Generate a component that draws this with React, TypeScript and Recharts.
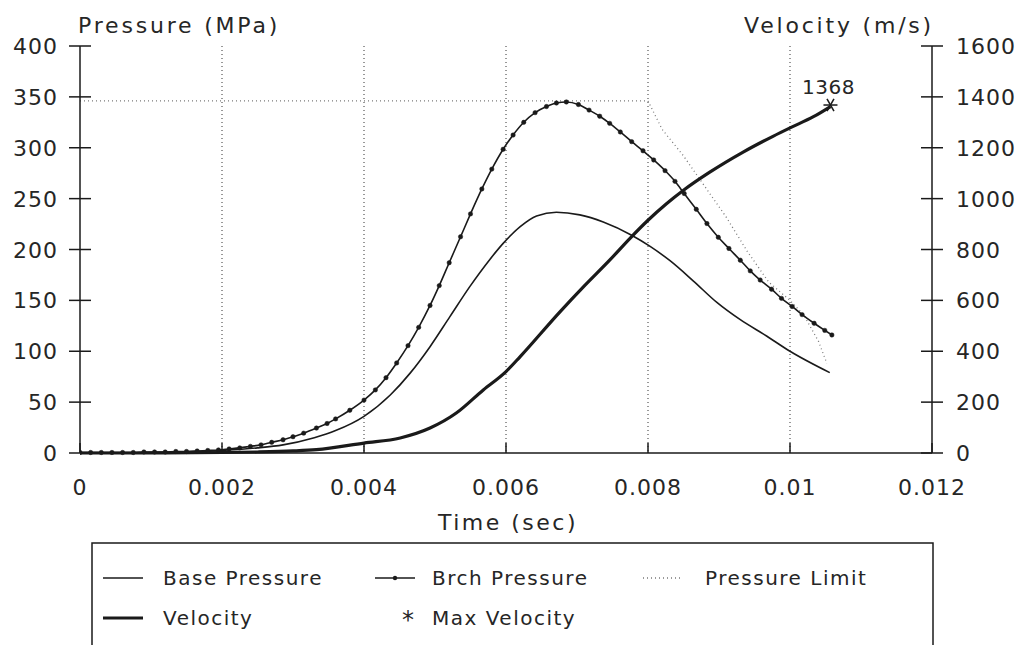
import React from 'react';
import { ComposedChart, Line, XAxis, YAxis, CartesianGrid, Scatter, Label } from 'recharts';

const timeTicks = [0, 0.002, 0.004, 0.006, 0.008, 0.01, 0.012];
const timeTickLabels = ['0', '0.002', '0.004', '0.006', '0.008', '0.01', '0.012'];
const pressureTicks = [0, 50, 100, 150, 200, 250, 300, 350, 400];
const velocityTicks = [0, 200, 400, 600, 800, 1000, 1200, 1400, 1600];

const brchTime = [0, 0.00015, 0.0003, 0.00045, 0.0006, 0.00075, 0.0009, 0.00105, 0.0012, 0.00135, 0.0015, 0.00165, 0.0018, 0.00195, 0.0021, 0.00225, 0.0024, 0.00255, 0.0027, 0.00286, 0.003, 0.00315, 0.00333, 0.00348, 0.0036, 0.0038, 0.004, 0.00416, 0.00431, 0.00446, 0.00462, 0.00477, 0.00493, 0.00506, 0.0052, 0.00536, 0.0055, 0.00566, 0.0058, 0.00596, 0.0061, 0.00625, 0.00641, 0.00657, 0.00671, 0.00685, 0.00702, 0.00717, 0.00732, 0.00746, 0.00761, 0.00777, 0.00793, 0.00808, 0.00824, 0.00838, 0.00851, 0.00868, 0.00883, 0.00899, 0.00914, 0.0093, 0.00944, 0.00958, 0.00974, 0.00988, 0.01003, 0.01017, 0.01034, 0.01049, 0.01059];
const brchPressure = [0.5, 0.5, 0.5, 0.5, 0.5, 0.5, 1, 1, 1, 1.5, 1.5, 2, 2.5, 3, 4, 5, 6.5, 8, 10.5, 13, 16, 19.5, 24.5, 29, 33.5, 42, 52, 62, 74, 88.5, 105.5, 123.5, 145, 164.5, 187, 212.5, 235, 259.5, 279, 298.5, 312.5, 325, 334.5, 340.5, 344, 345, 342.5, 337, 331, 324, 315.5, 306, 297, 288, 277.5, 267, 255, 239.5, 225.5, 212, 201, 189.5, 179, 170, 161, 152, 144, 136, 127.5, 120.5, 116];

const baseTime = [0, 0.0005, 0.001, 0.0015, 0.002, 0.0025, 0.00286, 0.0033, 0.0036, 0.004, 0.00437, 0.00465, 0.00493, 0.00521, 0.00549, 0.00577, 0.00596, 0.0062, 0.00643, 0.00671, 0.00704, 0.00737, 0.00777, 0.00803, 0.00831, 0.00864, 0.00897, 0.0093, 0.00967, 0.01, 0.01056];
const basePressure = [0, 0, 0.5, 1, 2.5, 5, 8, 15, 22, 36, 57, 78.5, 104.5, 134, 163.5, 190, 206, 222.5, 233, 236.6, 234, 227, 214, 203, 189, 169, 148, 131, 115, 100, 79];

const velTime = [0, 0.001, 0.002, 0.0025, 0.003, 0.00333, 0.004, 0.00451, 0.00493, 0.0053, 0.00568, 0.006, 0.0062, 0.00676, 0.00709, 0.00746, 0.00775, 0.008, 0.00826, 0.0085, 0.00887, 0.00934, 0.00976, 0.01, 0.01033, 0.01057];
const velocity = [0, 0, 2, 4, 8, 13, 39, 59, 98, 157, 248, 320, 379, 555, 653, 758, 845, 915, 980, 1033, 1104, 1183, 1245, 1278, 1322, 1362];

const limitTime = [0, 0.008, 0.0082, 0.0085, 0.0088, 0.0091, 0.0094, 0.0097, 0.01, 0.0102, 0.0104, 0.01052];
const limitPressure = [346, 346, 318, 292, 262, 232, 198, 168, 150, 135, 110, 88];

const maxVelTime = [0.01057];
const maxVelValue = [1368];

const brchData = brchTime.map((t, i) => ({ t, p: brchPressure[i] }));
const baseData = baseTime.map((t, i) => ({ t, p: basePressure[i] }));
const velData = velTime.map((t, i) => ({ t, v: velocity[i] }));
const limitData = limitTime.map((t, i) => ({ t, p: limitPressure[i] }));
const maxVelData = maxVelTime.map((t, i) => ({ t, v: maxVelValue[i] }));

const FONT = '"DejaVu Sans", sans-serif';
const INK = '#1a1a1a';
const TXT = '#262626';

const LeftTick = (props: any) => {
  const { x, y, payload } = props;
  return (
    <g>
      <line x1={x - 11} x2={x + 11} y1={y} y2={y} stroke={INK} strokeWidth={1.5} />
      <text x={x - 22} y={y + 8} textAnchor="end" fontFamily={FONT} fontSize={22} letterSpacing={1} fill={TXT}>
        {payload.value}
      </text>
    </g>
  );
};

const RightTick = (props: any) => {
  const { x, y, payload } = props;
  return (
    <g>
      <line x1={x - 11} x2={x + 11} y1={y} y2={y} stroke={INK} strokeWidth={1.5} />
      <text x={x + 24} y={y + 8} textAnchor="start" fontFamily={FONT} fontSize={22} letterSpacing={1} fill={TXT}>
        {payload.value}
      </text>
    </g>
  );
};

const BottomTick = (props: any) => {
  const { x, y, payload, index } = props;
  return (
    <g>
      <line x1={x} x2={x} y1={y} y2={y - 10} stroke={INK} strokeWidth={1.5} />
      <text x={x} y={y + 42} textAnchor="middle" fontFamily={FONT} fontSize={22} letterSpacing={1} fill={TXT}>
        {timeTickLabels[index] ?? String(payload.value)}
      </text>
    </g>
  );
};

const StarShape = (props: any) => {
  const { cx, cy, payload } = props;
  const r = 7;
  return (
    <g>
      <line x1={cx - r} x2={cx + r} y1={cy} y2={cy} stroke={INK} strokeWidth={1.5} />
      <line x1={cx - r * 0.5} x2={cx + r * 0.5} y1={cy - r * 0.87} y2={cy + r * 0.87} stroke={INK} strokeWidth={1.5} />
      <line x1={cx + r * 0.5} x2={cx - r * 0.5} y1={cy - r * 0.87} y2={cy + r * 0.87} stroke={INK} strokeWidth={1.5} />
      <text x={cx - 2} y={cy - 11} textAnchor="middle" fontFamily={FONT} fontSize={20} letterSpacing={0.5} fill={TXT}>
        {payload.v}
      </text>
    </g>
  );
};

const legendText = { fontFamily: FONT, fontSize: 20, letterSpacing: 1.5, fill: TXT } as const;

export default function App() {
  return (
    <div style={{ position: 'absolute', left: 0, top: 0, width: 1024, height: 645, overflow: 'hidden', background: '#fff' }}>
      <ComposedChart width={1024} height={645} margin={{ top: 46, right: 0, bottom: 132, left: 0 }}>
        <CartesianGrid yAxisId="p" horizontal={false} vertical={true} stroke="#333" strokeDasharray="1 3" strokeWidth={1} verticalValues={[0.002, 0.004, 0.006, 0.008, 0.01]} />
        <XAxis
          type="number"
          dataKey="t"
          domain={[0, 0.012]}
          ticks={timeTicks}
          allowDataOverflow
          height={60}
          tickSize={0}
          tickMargin={0}
          tick={<BottomTick />}
          axisLine={{ stroke: INK, strokeWidth: 1.5 }}
          tickLine={false}
          interval={0}
        >
          <Label
            content={(p: any) => {
              const vb = p.viewBox;
              return (
                <text x={vb.x + vb.width / 2 + 2} y={vb.y + 77} textAnchor="middle" fontFamily={FONT} fontSize={22} letterSpacing={2.5} fill={TXT}>
                  Time (sec)
                </text>
              );
            }}
          />
        </XAxis>
        <YAxis
          yAxisId="p"
          orientation="left"
          domain={[0, 400]}
          ticks={pressureTicks}
          width={80}
          tickSize={0}
          tickMargin={0}
          tick={<LeftTick />}
          tickLine={false}
          axisLine={{ stroke: INK, strokeWidth: 1.5 }}
          interval={0}
        >
          <Label
            content={(p: any) => {
              const vb = p.viewBox;
              return (
                <text x={vb.x + vb.width - 2} y={vb.y - 13} textAnchor="start" fontFamily={FONT} fontSize={22} letterSpacing={2.8} fill={TXT}>
                  Pressure (MPa)
                </text>
              );
            }}
          />
        </YAxis>
        <YAxis
          yAxisId="v"
          orientation="right"
          domain={[0, 1600]}
          ticks={velocityTicks}
          width={92}
          tickSize={0}
          tickMargin={0}
          tick={<RightTick />}
          tickLine={false}
          axisLine={{ stroke: INK, strokeWidth: 1.5 }}
          interval={0}
        >
          <Label
            content={(p: any) => {
              const vb = p.viewBox;
              return (
                <text x={vb.x + 2} y={vb.y - 13} textAnchor="end" fontFamily={FONT} fontSize={22} letterSpacing={2.8} fill={TXT}>
                  Velocity (m/s)
                </text>
              );
            }}
          />
        </YAxis>
        <Line yAxisId="p" data={limitData} dataKey="p" type="linear" stroke="#7a7a7a" strokeWidth={1.3} strokeDasharray="1 3" dot={false} isAnimationActive={false} />
        <Line yAxisId="p" data={baseData} dataKey="p" type="monotone" stroke={INK} strokeWidth={1.6} dot={false} isAnimationActive={false} />
        <Line yAxisId="p" data={brchData} dataKey="p" type="monotone" stroke={INK} strokeWidth={1.6} dot={{ r: 2.2, fill: INK, stroke: INK, strokeWidth: 0.5 }} isAnimationActive={false} />
        <Line yAxisId="v" data={velData} dataKey="v" type="monotone" stroke={INK} strokeWidth={3.2} dot={false} isAnimationActive={false} />
        <Scatter yAxisId="v" data={maxVelData} dataKey="v" shape={<StarShape />} isAnimationActive={false} />
      </ComposedChart>
      <svg width={1024} height={645} style={{ position: 'absolute', left: 0, top: 0, pointerEvents: 'none' }}>
        <rect x={92} y={543} width={841} height={140} fill="none" stroke={INK} strokeWidth={1.5} />
        <line x1={103} x2={143} y1={578} y2={578} stroke={INK} strokeWidth={1.6} />
        <text x={163} y={585} {...legendText}>Base Pressure</text>
        <line x1={375} x2={415} y1={578} y2={578} stroke={INK} strokeWidth={1.6} />
        <circle cx={395} cy={578} r={2.2} fill={INK} />
        <text x={432} y={585} {...legendText}>Brch Pressure</text>
        <line x1={643} x2={683} y1={578} y2={578} stroke="#7a7a7a" strokeWidth={1.3} strokeDasharray="1 3" />
        <text x={705} y={585} {...legendText}>Pressure Limit</text>
        <line x1={103} x2={143} y1={618} y2={618} stroke={INK} strokeWidth={3.2} />
        <text x={163} y={625} {...legendText}>Velocity</text>
        <text x={408} y={628} textAnchor="middle" fontFamily={FONT} fontSize={24} fill={TXT}>*</text>
        <text x={432} y={625} {...legendText}>Max Velocity</text>
      </svg>
    </div>
  );
}
